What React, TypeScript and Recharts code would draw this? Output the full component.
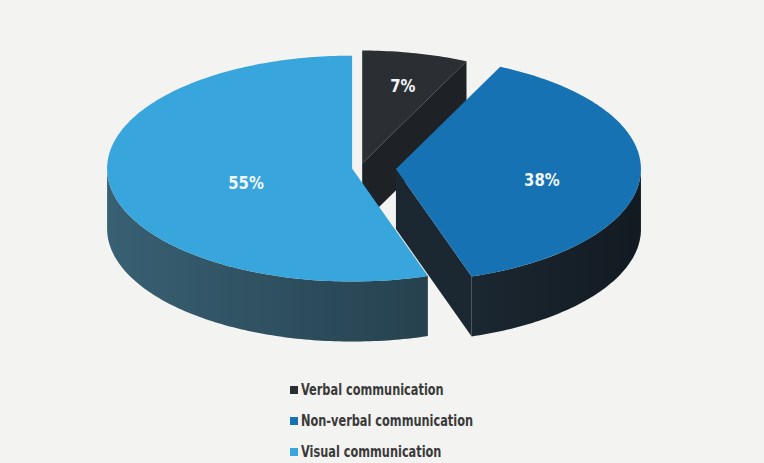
import React from 'react';
import { PieChart, Pie, Cell, Legend } from 'recharts';

const CATEGORIES = ['Verbal communication', 'Non-verbal communication', 'Visual communication'];
const SHARES = [7, 38, 55];
const TOP_COLORS = ['#2b2f34', '#1672b3', '#38a5dc'];
const SIDE_COLORS = ['#1e2227', '#1b2731', '#386073'];
const EXPLODE = [10, 36, 8];

const data = CATEGORIES.map((name, i) => ({ name, value: SHARES[i] }));

const W = 764;
const H = 463;
const CX = 360;
const CY = 168;
const RX = 245;
const K = 0.461;
const DEPTH = 60;
const FONT = '"Liberation Sans Narrow", "DejaVu Sans Condensed", "Roboto Condensed", "Arial Narrow", sans-serif';

const rad = (a: number) => (a * Math.PI) / 180;

const explode = (mid: number, idx: number) => {
  const e = EXPLODE[idx] ?? 0;
  return [e * Math.cos(rad(mid)), -e * K * Math.sin(rad(mid))];
};

const idxOf = (p: any) => {
  const name = p?.payload?.name ?? p?.name;
  const i = CATEGORIES.indexOf(name);
  return i >= 0 ? i : p?.index ?? 0;
};

const pt = (cx: number, cy: number, r: number, a: number, dx: number, dy: number, h = 0) => [
  cx + dx + r * Math.cos(rad(a)),
  cy + dy - r * K * Math.sin(rad(a)) + h,
];

const arcPts = (cx: number, cy: number, r: number, a: number, b: number, dx: number, dy: number, h = 0) => {
  const n = Math.max(2, Math.ceil(Math.abs(b - a)));
  const out: number[][] = [];
  for (let i = 0; i <= n; i++) {
    const t = a + ((b - a) * i) / n;
    out.push(pt(cx, cy, r, t, dx, dy, h));
  }
  return out;
};

const toPath = (pts: number[][]) =>
  pts.map((p, i) => `${i === 0 ? 'M' : 'L'}${p[0].toFixed(2)},${p[1].toFixed(2)}`).join(' ') + ' Z';

const TopShape = (p: any) => {
  const { cx, cy, outerRadius: r, startAngle: s, endAngle: e, fill } = p;
  const mid = (s + e) / 2;
  const [dx, dy] = explode(mid, idxOf(p));
  const pts = [[cx + dx, cy + dy], ...arcPts(cx, cy, r, s, e, dx, dy)];
  return <path d={toPath(pts)} fill={fill} stroke="none" />;
};

const SideShape = (p: any) => {
  const { cx, cy, outerRadius: r, startAngle: s, endAngle: e, fill } = p;
  const lo = Math.min(s, e);
  const hi = Math.max(s, e);
  const mid = (s + e) / 2;
  const [dx, dy] = explode(mid, idxOf(p));
  const apex = [cx + dx, cy + dy];
  const walls: string[] = [];
  const wall = (a: number) => {
    const P = pt(cx, cy, r, a, dx, dy);
    return toPath([apex, P, [P[0], P[1] + DEPTH], [apex[0], apex[1] + DEPTH]]);
  };
  if (Math.cos(rad(lo)) > 0.01) walls.push(wall(lo));
  if (Math.cos(rad(hi)) < -0.01) walls.push(wall(hi));
  const outers: string[] = [];
  for (let k = -2; k <= 2; k++) {
    const a = Math.max(lo, -180 + 360 * k);
    const b = Math.min(hi, 360 * k);
    if (b > a) {
      const top = arcPts(cx, cy, r, a, b, dx, dy);
      const bottom = arcPts(cx, cy, r, b, a, dx, dy, DEPTH);
      outers.push(toPath([...top, ...bottom]));
    }
  }
  const gid = `ws${Math.round(s * 100)}`;
  return (
    <g>
      <defs>
        <linearGradient id={gid} x1="0" y1="0" x2="1" y2="0">
          <stop offset="0" stopColor="#000" stopOpacity={0} />
          <stop offset="1" stopColor="#000" stopOpacity={0.32} />
        </linearGradient>
      </defs>
      {walls.map((d, i) => (
        <path key={'w' + i} d={d} fill={fill} stroke="none" />
      ))}
      {outers.map((d, i) => (
        <g key={'o' + i}>
          <path d={d} fill={fill} stroke="none" />
          <path d={d} fill={`url(#${gid})`} stroke="none" />
        </g>
      ))}
    </g>
  );
};

const renderLabel = (p: any) => {
  const { cx, cy, outerRadius: r, startAngle: s, endAngle: e, value } = p;
  const mid = (s + e) / 2;
  const theta = rad(Math.abs(s - e)) / 2;
  const centroid = (2 * Math.sin(theta)) / (3 * theta);
  const f = 1.15 * centroid;
  const [dx, dy] = explode(mid, idxOf(p));
  const x = cx + dx + f * r * Math.cos(rad(mid));
  const y = cy + dy - f * r * K * Math.sin(rad(mid)) + 6;
  return (
    <text
      x={0}
      y={0}
      transform={`translate(${x.toFixed(2)},${y.toFixed(2)}) scale(0.92,1)`}
      textAnchor="middle"
      dominantBaseline="central"
      fill="#f2f6fa"
      fontFamily={FONT}
      fontWeight={700}
      fontSize={18}
    >
      {`${value}%`}
    </text>
  );
};

const renderLegend = () => (
  <div style={{ fontFamily: FONT, fontWeight: 700, fontSize: 15, color: '#3a3a3a' }}>
    {CATEGORIES.map((name, i) => (
      <div key={name} style={{ display: 'flex', alignItems: 'center', height: 31, whiteSpace: 'nowrap' }}>
        <span
          style={{ display: 'inline-block', width: 8, height: 8, background: TOP_COLORS[i], marginRight: 3 }}
        />
        <span style={{ display: 'inline-block', transform: 'scaleX(0.84)', transformOrigin: 'left center' }}>
          {name}
        </span>
      </div>
    ))}
  </div>
);

export default function App() {
  return (
    <div style={{ position: 'absolute', left: 0, top: 0, width: W, height: H, background: '#f3f3f1' }}>
      <PieChart width={W} height={H} margin={{ top: 0, right: 0, bottom: 0, left: 0 }}>
        <Pie
          data={data}
          dataKey="value"
          nameKey="name"
          cx={CX}
          cy={CY}
          outerRadius={RX}
          startAngle={90}
          endAngle={-270}
          stroke="none"
          shape={SideShape}
          inactiveShape={SideShape}
          activeShape={SideShape}
          label={false}
          labelLine={false}
          legendType="none"
          isAnimationActive={false}
        >
          {data.map((d, i) => (
            <Cell key={d.name} fill={SIDE_COLORS[i]} />
          ))}
        </Pie>
        <Pie
          data={data}
          dataKey="value"
          nameKey="name"
          cx={CX}
          cy={CY}
          outerRadius={RX}
          startAngle={90}
          endAngle={-270}
          stroke="none"
          shape={TopShape}
          inactiveShape={TopShape}
          activeShape={TopShape}
          label={renderLabel}
          labelLine={false}
          isAnimationActive={false}
        >
          {data.map((d, i) => (
            <Cell key={d.name} fill={TOP_COLORS[i]} />
          ))}
        </Pie>
        <Legend
          layout="vertical"
          align="center"
          verticalAlign="middle"
          content={renderLegend}
          wrapperStyle={{ left: 290, top: 374, width: 260, height: 93 }}
        />
      </PieChart>
    </div>
  );
}
